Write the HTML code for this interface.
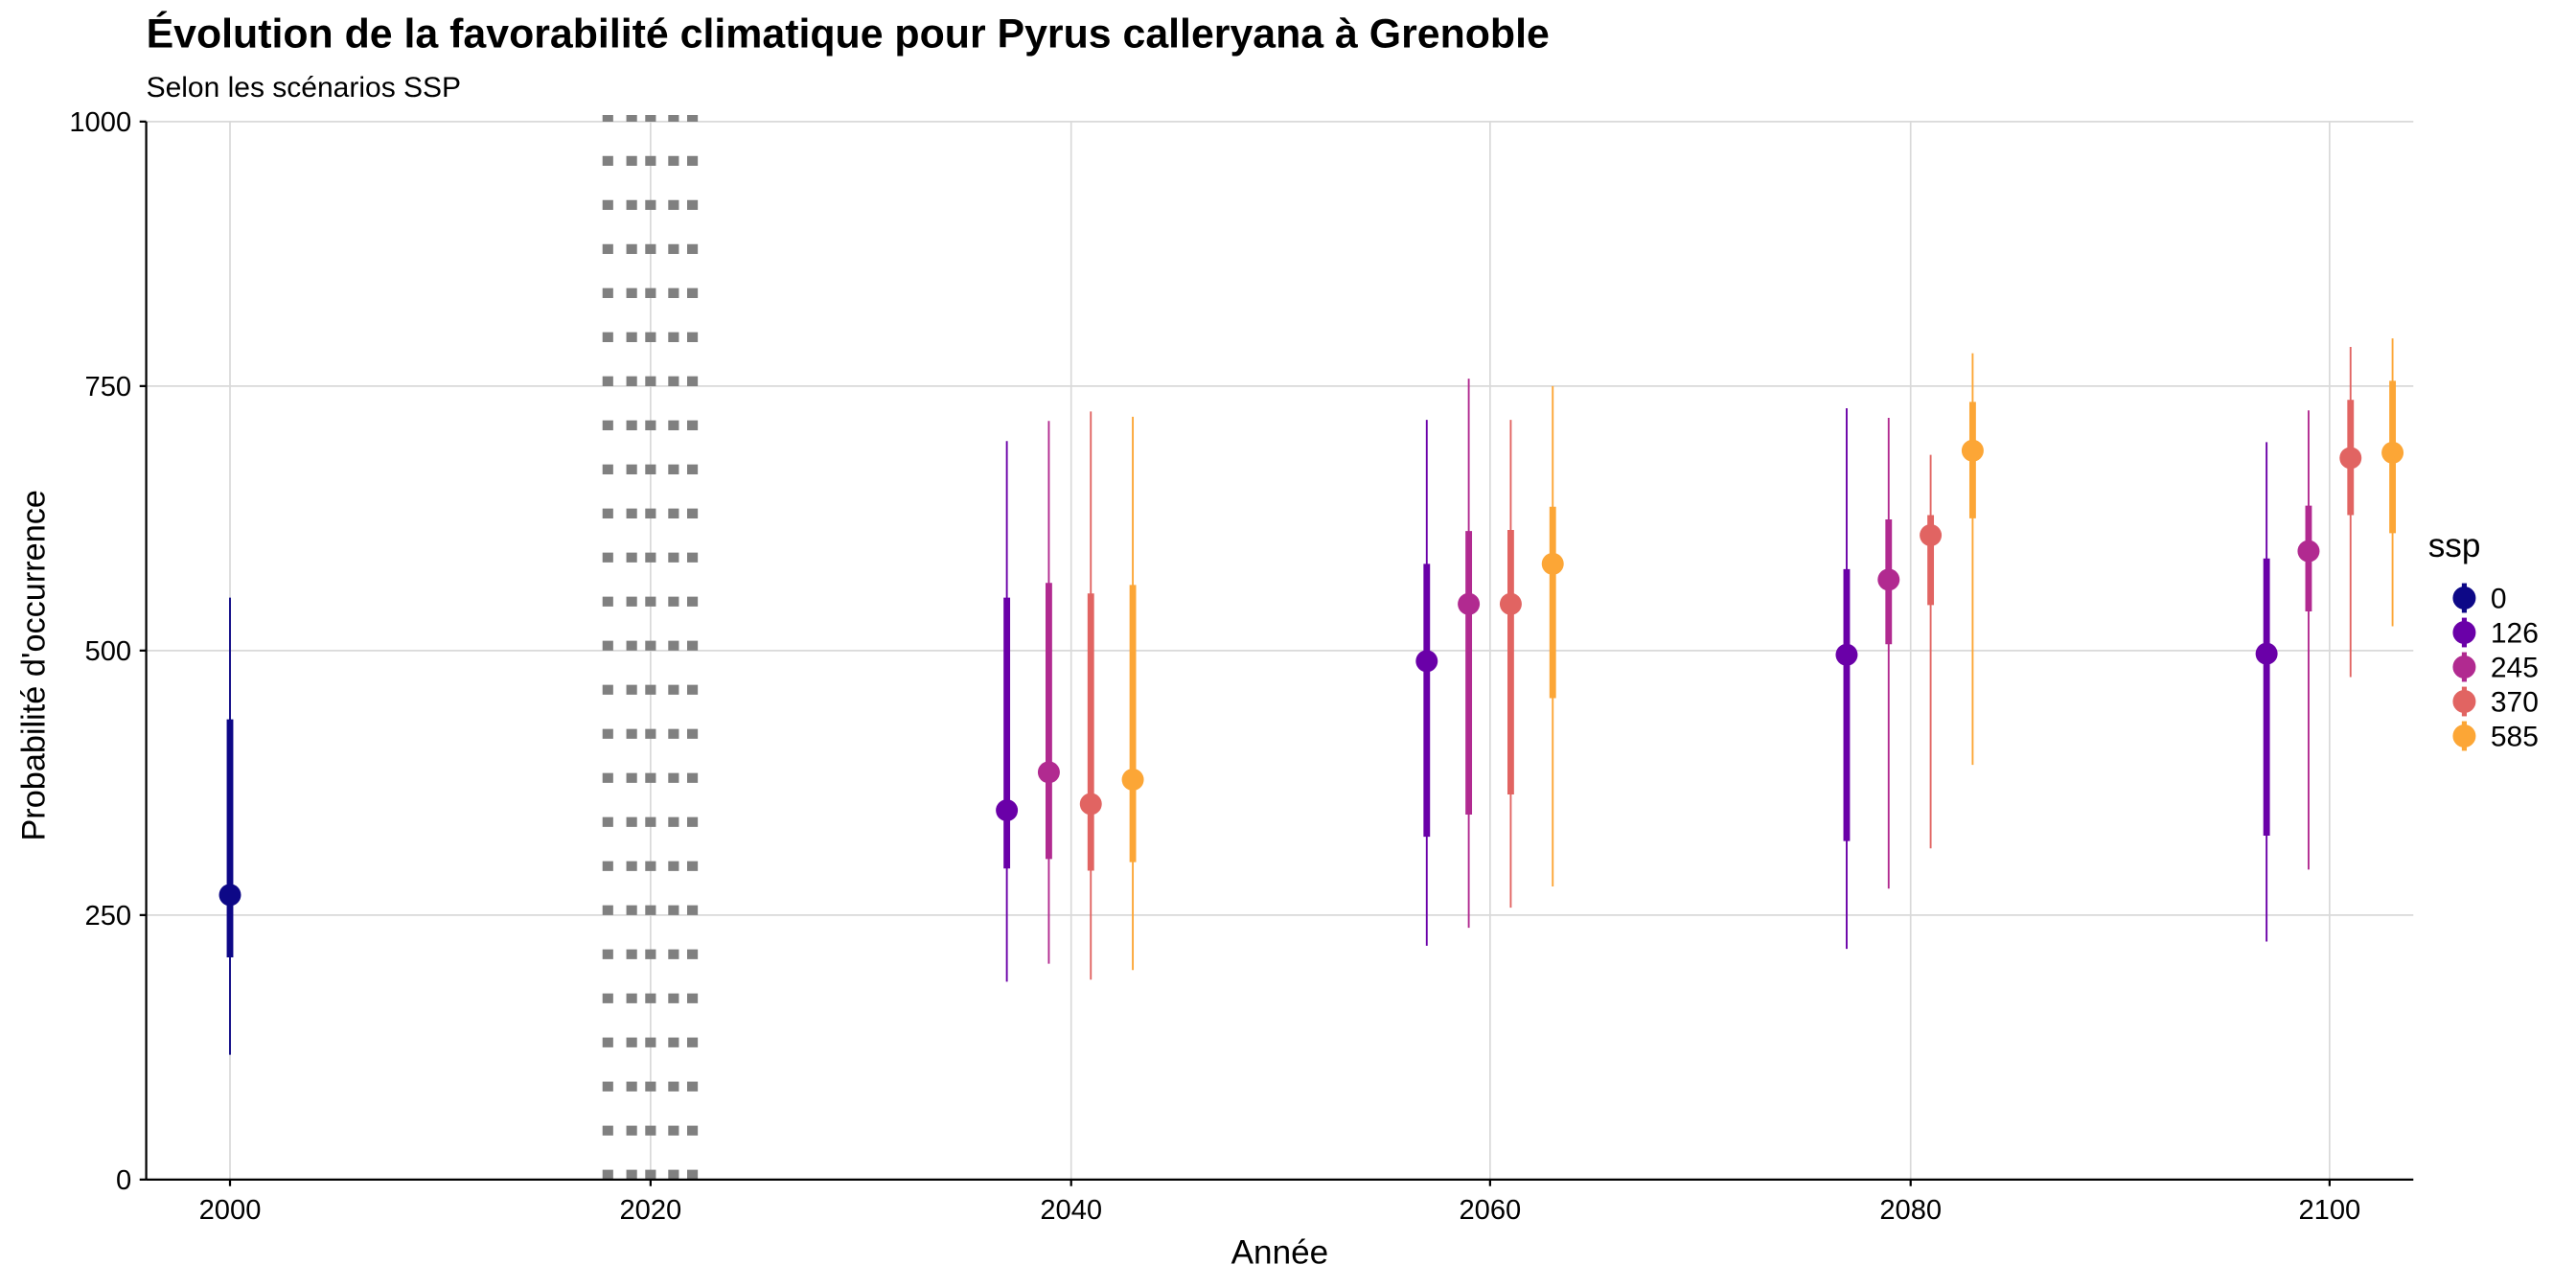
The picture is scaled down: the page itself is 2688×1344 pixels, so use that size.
<!DOCTYPE html>
<html><head><meta charset="utf-8"><style>html,body{margin:0;padding:0;background:#fff}svg{display:block}text{font-family:"Liberation Sans",Arial,sans-serif}</style></head>
<body>
<svg width="2688" height="1344" viewBox="0 0 1568 784" xmlns="http://www.w3.org/2000/svg">
<rect width="1568" height="784" fill="#fff"/>
<g stroke="#d9d9d9" stroke-width="1">
<line x1="89" x2="1469" y1="557" y2="557"/><line x1="89" x2="1469" y1="396" y2="396"/><line x1="89" x2="1469" y1="235" y2="235"/><line x1="89" x2="1469" y1="74" y2="74"/>
<line x1="140" x2="140" y1="74" y2="718"/><line x1="396" x2="396" y1="74" y2="718"/><line x1="652" x2="652" y1="74" y2="718"/><line x1="907" x2="907" y1="74" y2="718"/><line x1="1163" x2="1163" y1="74" y2="718"/><line x1="1418" x2="1418" y1="74" y2="718"/>
</g>
<g stroke="#808080" stroke-width="6.5" stroke-dasharray="6 20.83">
<line x1="370" x2="370" y1="718" y2="70"/><line x1="384.5" x2="384.5" y1="718" y2="70"/><line x1="396" x2="396" y1="718" y2="70"/><line x1="410" x2="410" y1="718" y2="70"/><line x1="421.5" x2="421.5" y1="718" y2="70"/>
</g>
<g id="s"></g>
<g stroke="#000" stroke-width="1.3">
<line x1="89" x2="89" y1="74" y2="718"/><line x1="89" x2="1469" y1="718" y2="718"/>
<line x1="85" x2="89" y1="718" y2="718"/><line x1="85" x2="89" y1="557" y2="557"/><line x1="85" x2="89" y1="396" y2="396"/><line x1="85" x2="89" y1="235" y2="235"/><line x1="85" x2="89" y1="74" y2="74"/>
<line x1="140" x2="140" y1="718" y2="722"/><line x1="396" x2="396" y1="718" y2="722"/><line x1="652" x2="652" y1="718" y2="722"/><line x1="907" x2="907" y1="718" y2="722"/><line x1="1163" x2="1163" y1="718" y2="722"/><line x1="1418" x2="1418" y1="718" y2="722"/>
</g>
<g font-size="17" fill="#000" text-anchor="end">
<text x="80" y="724">0</text><text x="80" y="563">250</text><text x="80" y="402">500</text><text x="80" y="241">750</text><text x="80" y="80">1000</text>
</g>
<g font-size="17" fill="#000" text-anchor="middle">
<text x="140" y="742">2000</text><text x="396" y="742">2020</text><text x="652" y="742">2040</text><text x="907" y="742">2060</text><text x="1163" y="742">2080</text><text x="1418" y="742">2100</text>
</g>
<text x="779" y="769" font-size="20.5" text-anchor="middle">Année</text>
<text transform="translate(27,405) rotate(-90)" font-size="20" text-anchor="middle">Probabilité d'occurrence</text>
<text x="89" y="29" font-size="25" font-weight="bold">Évolution de la favorabilité climatique pour Pyrus calleryana à Grenoble</text>
<text x="89" y="59" font-size="17.5">Selon les scénarios SSP</text>
<text x="1478" y="339" font-size="20.5">ssp</text>
<g font-size="17.5">
<text x="1516" y="370">0</text><text x="1516" y="391">126</text><text x="1516" y="412">245</text><text x="1516" y="433">370</text><text x="1516" y="454">585</text>
</g>
<script>
var data=[
[2000,"#0d0887",269,210,435,118,550],
[2037,"#6a00a8",349,294,550,187,698],[2039,"#b12a90",385,303,564,204,717],[2041,"#e16462",355,292,554,189,726],[2043,"#fca636",378,300,562,198,721],
[2057,"#6a00a8",490,324,582,221,718],[2059,"#b12a90",544,345,613,238,757],[2061,"#e16462",544,364,614,257,718],[2063,"#fca636",582,455,636,277,750],
[2077,"#6a00a8",496,320,577,218,729],[2079,"#b12a90",567,506,624,275,720],[2081,"#e16462",609,543,628,313,685],[2083,"#fca636",689,625,735,392,781],
[2097,"#6a00a8",497,325,587,225,697],[2099,"#b12a90",594,537,637,293,727],[2101,"#e16462",682,628,737,475,787],[2103,"#fca636",687,611,755,523,795]];
var ns="http://www.w3.org/2000/svg",g=document.getElementById("s");
function X(y){return 140+(y-2000)*12.78}function Y(v){return 718-v*0.644}
function add(t,a){var e=document.createElementNS(ns,t);for(var k in a)e.setAttribute(k,a[k]);g.appendChild(e)}
data.forEach(function(d){var x=X(d[0]);
add("line",{x1:x,x2:x,y1:Y(d[5]),y2:Y(d[6]),stroke:d[1],"stroke-width":1.1});
add("line",{x1:x,x2:x,y1:Y(d[3]),y2:Y(d[4]),stroke:d[1],"stroke-width":4});
add("circle",{cx:x,cy:Y(d[2]),r:6.7,fill:d[1]});});
["#0d0887","#6a00a8","#b12a90","#e16462","#fca636"].forEach(function(c,i){var y=364+i*21;
add("line",{x1:1500,x2:1500,y1:y-9,y2:y+9,stroke:c,"stroke-width":3});
add("circle",{cx:1500,cy:y,r:7,fill:c});});
</script>
</svg>
</body></html>
